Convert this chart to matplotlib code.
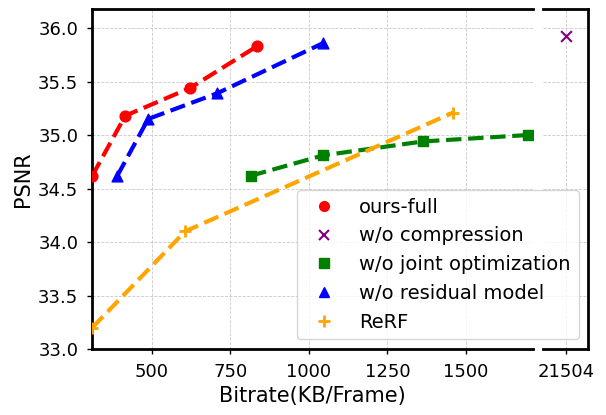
import matplotlib.pyplot as plt
import numpy as np

# bitrate (KB/Frame) and PSNR per method
full_x = [310, 415, 622, 835]
full_y = [34.62, 35.18, 35.44, 35.83]

resid_x = [390, 488, 708, 1046]
resid_y = [34.62, 35.15, 35.39, 35.86]

joint_x = [816, 1046, 1364, 1698]
joint_y = [34.62, 34.81, 34.94, 35.00]

rerf_x = [310, 606, 1460]
rerf_y = [33.20, 34.10, 35.21]

nocomp_x = [21504]
nocomp_y = [35.93]

W, H = 606, 415
fig = plt.figure(figsize=(W / 100, H / 100), dpi=100)
bottom, top = 349, 9.3
ax = fig.add_axes([92.3 / W, (H - bottom) / H, (533.3 - 92.3) / W, (bottom - top) / H])
ax2 = fig.add_axes([543.3 / W, (H - bottom) / H, 45 / W, (bottom - top) / H], sharey=ax)

lw = 3
# lines
ax.plot(full_x, full_y, '--', color='red', linewidth=lw)
ax.plot(resid_x, resid_y, '--', color='blue', linewidth=lw)
ax.plot(joint_x, joint_y, '--', color='green', linewidth=lw)
ax.plot(rerf_x, rerf_y, '--', color='orange', linewidth=lw)
# markers
ax.scatter(full_x, full_y, marker='o', color='red', s=60, zorder=3)
ax.scatter(resid_x, resid_y, marker='^', color='blue', s=60, zorder=3)
ax.scatter(joint_x, joint_y, marker='s', color='green', s=60, zorder=3)
ax.scatter(rerf_x, rerf_y, marker='+', color='orange', s=80, linewidths=2, zorder=3)
ax2.scatter(nocomp_x, nocomp_y, marker='x', color='purple', s=60, linewidths=1.5, zorder=3)

ax.set_xlim(310, 1715)
ax.set_ylim(33.0, 36.175)
ax2.set_xlim(21504 - 270, 21504 + 270)
ax.set_xticks([500, 750, 1000, 1250, 1500])
ax2.set_xticks([21504])
yt = [33.0, 33.5, 34.0, 34.5, 35.0, 35.5, 36.0]
ax.set_yticks(yt)
ax.set_yticklabels([f'{v:.1f}' for v in yt])

for a in (ax, ax2):
    a.grid(True, linestyle='--', linewidth=0.6, color='#bbbbbb', alpha=0.8)
    a.set_axisbelow(True)
    a.tick_params(labelsize=13, width=1, pad=6.5)
    for s in a.spines.values():
        s.set_linewidth(2)

ax.spines['right'].set_visible(False)
ax2.spines['left'].set_visible(False)
ax2.tick_params(axis='y', left=False, labelleft=False)

ax.set_xlabel('Bitrate(KB/Frame)', fontsize=15)
ax.set_ylabel('PSNR', fontsize=15)

handles = [
    plt.Line2D([], [], linestyle='none', marker='o', color='red', markersize=7),
    plt.Line2D([], [], linestyle='none', marker='x', color='purple', markersize=7, markeredgewidth=1.5),
    plt.Line2D([], [], linestyle='none', marker='s', color='green', markersize=7),
    plt.Line2D([], [], linestyle='none', marker='^', color='blue', markersize=7),
    plt.Line2D([], [], linestyle='none', marker='+', color='orange', markersize=9, markeredgewidth=2),
]
labels = ['ours-full', 'w/o compression', 'w/o joint optimization', 'w/o residual model', 'ReRF']
ax2.legend(handles, labels, loc='lower right', fontsize=14, bbox_to_anchor=(1.0, 0.0),
           borderaxespad=0.5)

fig.savefig('out.png', dpi=100)
